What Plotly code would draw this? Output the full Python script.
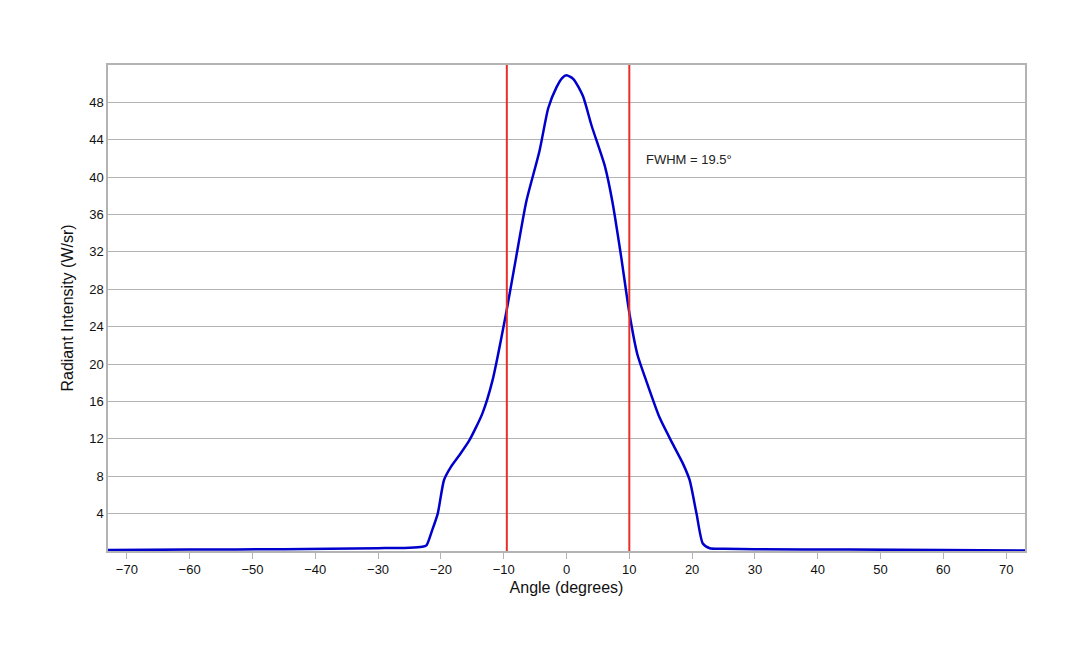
import plotly.graph_objects as go

# angle (deg) and radiant intensity (W/sr)
angle = [-73, -60, -45, -30, -25, -23, -22.3, -21.4, -20.5, -19.5, -18.4, -17, -15.5,
         -13.4, -11.8, -9.6, -8, -6.4, -4.3, -2.9, -1.6, -0.7, 0, 1.1, 2.6, 4, 6.1,
         7.3, 8.7, 10, 11.3, 12.7, 14.8, 16.8, 18.5, 19.6, 20.7, 21.7, 22.8, 25, 30,
         45, 60, 73]
intensity = [0.1, 0.15, 0.2, 0.3, 0.35, 0.45, 0.6, 2.2, 4.0, 7.6, 9.0, 10.3, 11.8,
             14.7, 18.2, 25.5, 31.5, 37.4, 42.8, 47.4, 49.6, 50.6, 50.9, 50.5, 48.7,
             45.5, 41.2, 37.4, 31.5, 25.5, 21.0, 18.2, 14.3, 11.6, 9.4, 7.6, 4.0,
             0.8, 0.3, 0.25, 0.2, 0.15, 0.1, 0.05]
fwhm_edges = [-9.5, 10]
ytick_vals = list(range(4, 52, 4))
xtick_vals = list(range(-70, 80, 10))

fig = go.Figure()
fig.add_trace(go.Scatter(x=angle, y=intensity, mode='lines',
                         line=dict(color='#0000cc', width=2.5, shape='spline', smoothing=0.6),
                         showlegend=False))
for xe in fwhm_edges:
    fig.add_shape(type='line', x0=xe, x1=xe, y0=0, y1=52, xref='x', yref='y',
                  line=dict(color='#e8302a', width=2))
fig.add_annotation(x=12.4, y=41.9, text='FWHM = 19.5°', showarrow=False,
                   xanchor='left', font=dict(size=13, color='#222'))

fig.update_layout(
    width=1080, height=648,
    margin=dict(l=100, r=63, t=57, b=105),
    paper_bgcolor='white', plot_bgcolor='white',
    font=dict(family='Liberation Sans, Arial', size=13, color='#111'),
    xaxis=dict(range=[-73, 73], tickvals=xtick_vals, title=dict(text='Angle (degrees)', standoff=5),
               tickfont=dict(size=13),
               showgrid=False, zeroline=False, showline=True, mirror=True,
               linecolor='#b3b3b3', linewidth=1.5, ticks='outside', tickcolor='#b3b3b3',
               ticklen=6),
    yaxis=dict(range=[0, 52], tickvals=ytick_vals, title=dict(text='Radiant Intensity (W/sr)', standoff=12),
               tickfont=dict(size=13),
               showgrid=True, gridcolor='#b3b3b3', gridwidth=1.2, zeroline=False,
               showline=True, mirror=True, linecolor='#b3b3b3', linewidth=1.5),
)

fig.write_html("out.html")
